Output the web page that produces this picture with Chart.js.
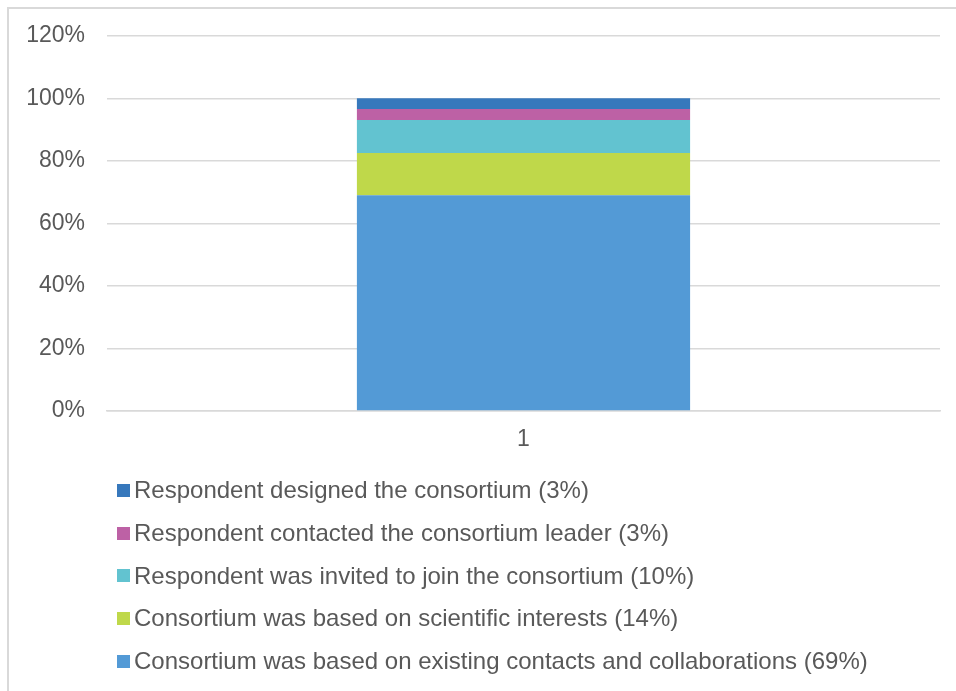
<!DOCTYPE html>
<html>
<head>
<meta charset="utf-8">
<script src="https://cdn.jsdelivr.net/npm/chart.js@4/dist/chart.umd.min.js"></script>
<style>
  html, body { margin: 0; padding: 0; background: #fff; }
  #wrap { position: relative; width: 956px; height: 691px; overflow: hidden; }
  #frame { position: absolute; left: 7px; top: 7px; right: -10px; bottom: -10px;
           border-left: 2px solid #d9d9d9; border-top: 2px solid #d9d9d9; }
  #chart { position: absolute; left: 0; top: 0; }
  #legend { position: absolute; left: 117px; top: 469px;
            font-family: "Liberation Sans", Arial, sans-serif; font-size: 24px; color: #595959; }
  .row { height: 42.7px; display: flex; align-items: center; white-space: nowrap; }
  .box { width: 13px; height: 13px; margin-right: 4px; flex: none; }
</style>
</head>
<body>
<div id="wrap">
  <div id="frame"></div>
  <canvas id="chart" width="956" height="691"></canvas>
  <div id="legend"></div>
</div>
<script>
// categorias e séries (de baixo para cima na barra)
const categories = ['1'];
const seriesNames = [
  'Consortium was based on existing contacts and collaborations (69%)',
  'Consortium was based on scientific interests (14%)',
  'Respondent was invited to join the consortium (10%)',
  'Respondent contacted the consortium leader (3%)',
  'Respondent designed the consortium (3%)'
];
const existingContacts = [69];
const scientificInterests = [13.5];
const invitedToJoin = [10.6];
const contactedLeader = [3.5];
const designedConsortium = [3.4];
const yTicks = [0, 20, 40, 60, 80, 100, 120];

const cores = ['#539ad6', '#bfd84a', '#62c3d0', '#bd61a5', '#3778bc'];
const valores = [existingContacts, scientificInterests, invitedToJoin, contactedLeader, designedConsortium];

const fonte = { family: '"Liberation Sans", Arial, sans-serif', size: 23 };

const ctx = document.getElementById('chart').getContext('2d');
const grafico = new Chart(ctx, {
  type: 'bar',
  data: {
    labels: categories,
    datasets: seriesNames.map((nome, i) => ({
      label: nome,
      data: valores[i],
      backgroundColor: cores[i],
      borderWidth: 0,
      categoryPercentage: 1,
      barPercentage: 0.4
    }))
  },
  options: {
    responsive: false,
    animation: false,
    layout: { padding: { left: 26, right: 16, top: 26, bottom: 237 } },
    plugins: {
      legend: { display: false },
      tooltip: { enabled: false }
    },
    scales: {
      x: {
        stacked: true,
        grid: { display: false, drawTicks: false },
        border: { display: true, color: '#d9d9d9', width: 1.5 },
        ticks: { font: fonte, color: '#595959', padding: 15 },
        afterFit: s => { s.height = 43; }
      },
      y: {
        stacked: true,
        min: 0,
        max: 120,
        afterBuildTicks: s => { s.ticks = yTicks.map(v => ({ value: v })); },
        grid: { color: '#d9d9d9', lineWidth: 1.5, drawTicks: false },
        border: { display: false },
        ticks: { font: fonte, color: '#595959', padding: 22, callback: v => v + '%' },
        afterFit: s => { s.width = 81; }
      }
    }
  }
});

// legenda em HTML, uma linha por série (ordem invertida como no original)
const leg = document.getElementById('legend');
grafico.data.datasets.slice().reverse().forEach(ds => {
  const row = document.createElement('div');
  row.className = 'row';
  const box = document.createElement('span');
  box.className = 'box';
  box.style.background = ds.backgroundColor;
  const txt = document.createElement('span');
  txt.textContent = ds.label;
  row.appendChild(box);
  row.appendChild(txt);
  leg.appendChild(row);
});
</script>
</body>
</html>
